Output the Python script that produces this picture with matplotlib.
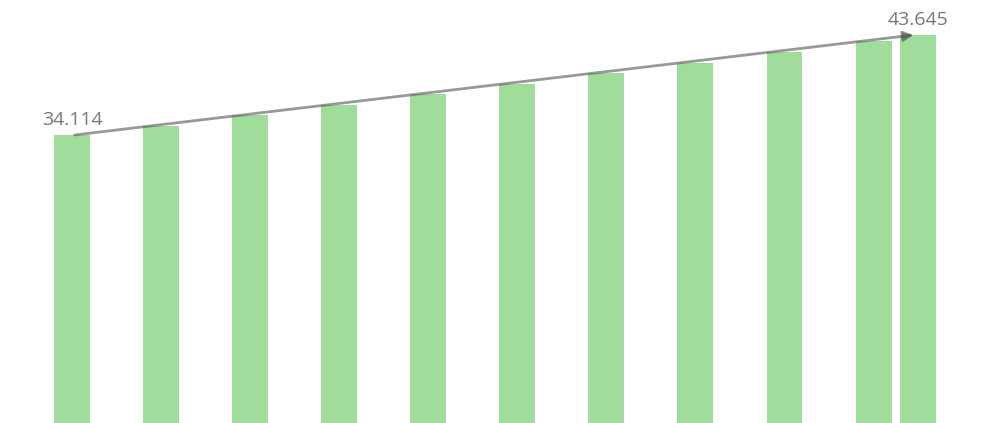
"""Bar chart with trend arrow between first and last value."""

import matplotlib

matplotlib.use("Agg")
import matplotlib.pyplot as plt  # noqa: E402

positions = [0, 1, 2, 3, 4, 5, 6, 7, 8, 9, 9.5]
values = [34.114, 34.97, 36.02, 36.97, 38.02, 38.97, 40.02, 40.99, 42.04, 43.09, 43.645]
first_label = "34.114"
last_label = "43.645"

plt.rcParams["font.family"] = ["Open Sans", "DejaVu Sans"]

fig = plt.figure(figsize=(9.89, 4.23), dpi=100)
ax = fig.add_axes([0, 0, 1, 1])
ax.bar(positions, values, width=0.404, color="#a0dd9b", zorder=1)

ax.annotate(
    "",
    xy=(positions[-1] - 0.05, values[-1]),
    xytext=(positions[0] + 0.03, values[0]),
    arrowprops=dict(arrowstyle="-|>", color="#555555", alpha=0.6, lw=2,
                    mutation_scale=15, shrinkA=0, shrinkB=0),
    zorder=3,
)

ax.annotate(first_label, xy=(positions[0], values[0]), xytext=(0, 7), textcoords="offset points",
            ha="center", va="baseline", fontsize=14, color="#777777")
ax.annotate(last_label, xy=(positions[-1], values[-1]), xytext=(0, 7), textcoords="offset points",
            ha="center", va="baseline", fontsize=14, color="#777777")

ax.set_xlim(-0.808, 10.296)
ax.set_ylim(6.66, 46.98)
ax.axis("off")

fig.savefig("out.png", dpi=100)
plt.close(fig)
